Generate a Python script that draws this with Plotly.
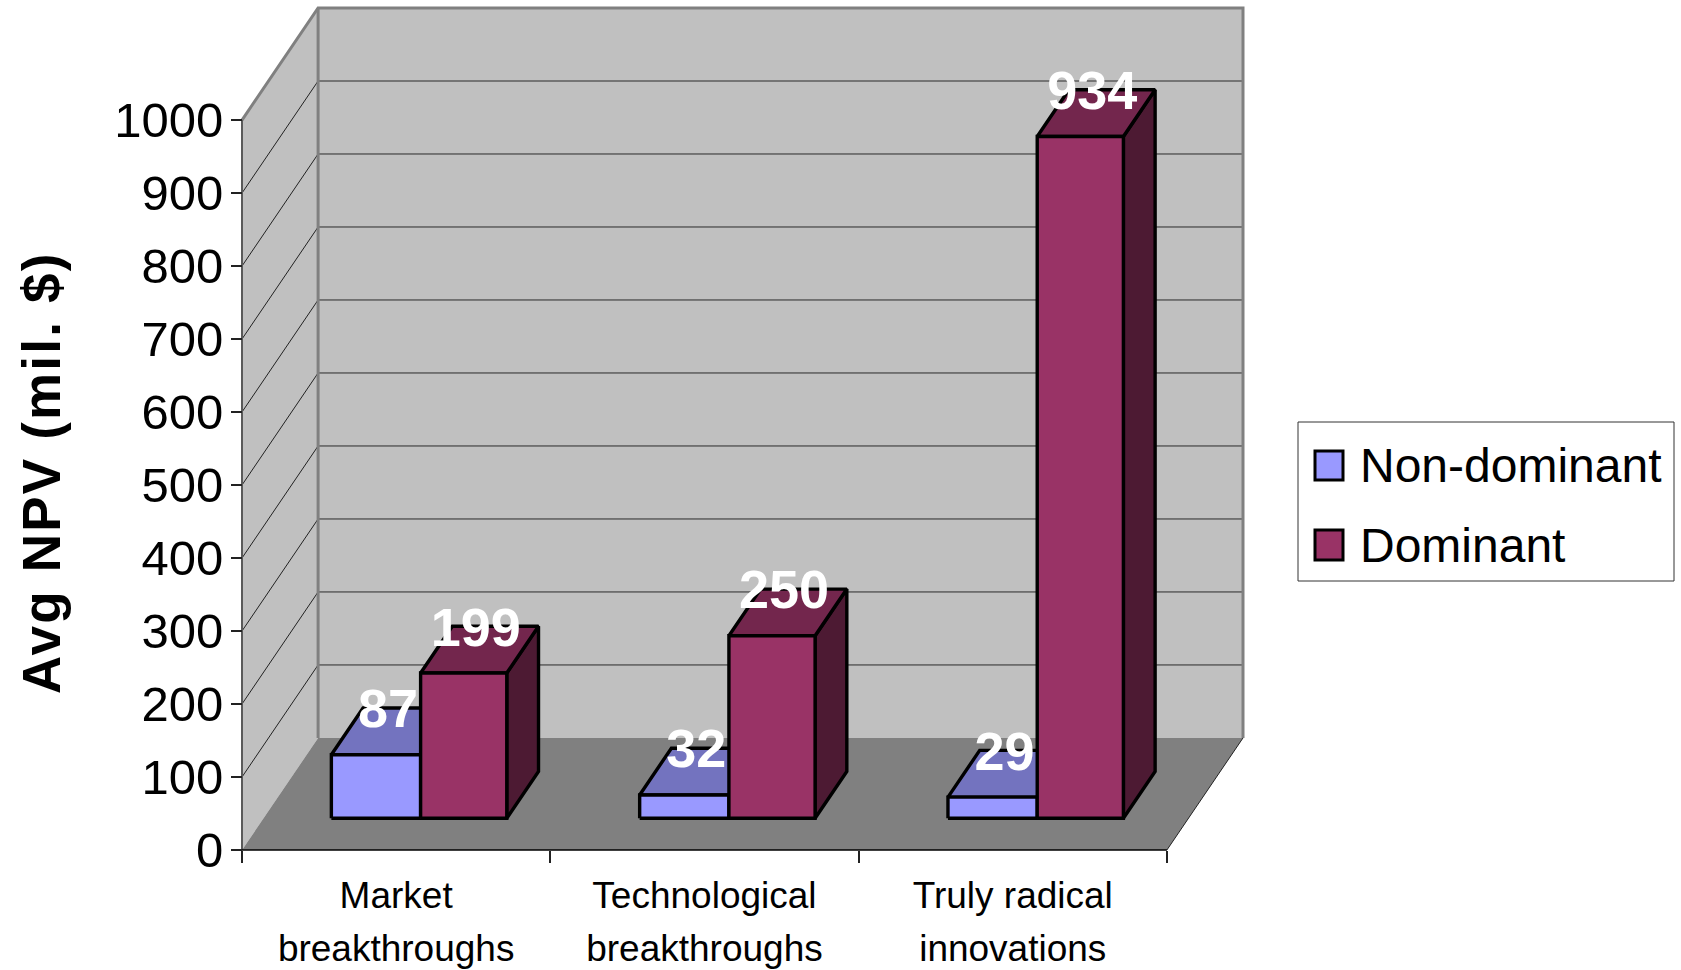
import plotly.graph_objects as go

categories = ["Market<br>breakthroughs", "Technological<br>breakthroughs", "Truly radical<br>innovations"]
non_dominant = [87, 32, 29]
dominant = [199, 250, 934]
y_ticks = [0, 100, 200, 300, 400, 500, 600, 700, 800, 900, 1000]
series_names = ["Non-dominant", "Dominant"]

FONT = "Liberation Sans"
W, H = 1681, 970
L, R, T, B = 242, 1243, 8, 850
PAD = 6
DX, DY = 0.2468, 153.5       # oblique depth of the floor in axis units
D0, D1 = 0.283, 0.70         # bar depth extent
BAR_START = 0.220
BAR_W = (0.2895, 0.2795)
LABEL_D = 0.125
LABEL_X = 0.008
XMAX, YMAX = 3 + DX, 1000 + DY
UX = (R - L) / XMAX
UY = (B - T) / YMAX

BLUE = ("#9999FF", "#7373BF", "#4D4D80")
PLUM = ("#993366", "#73264D", "#4D1A33")


def proj(x, v, d):
    return x + DX * d, v + DY * d


def poly(points, fill=None, line=None, width=1, name=None, closed=True):
    xs = [p[0] for p in points]
    ys = [p[1] for p in points]
    if closed:
        xs.append(xs[0])
        ys.append(ys[0])
    return go.Scatter(
        x=xs, y=ys, mode="lines", showlegend=False, hoverinfo="skip", name=name,
        fill="toself" if fill else None, fillcolor=fill,
        line=dict(color=line if line else "rgba(0,0,0,0)", width=width if line else 0),
        cliponaxis=False,
    )


fig = go.Figure()

# walls and floor
fig.add_trace(poly([(0, 0), (0, 1000), proj(0, 1000, 1), proj(0, 0, 1)], fill="#C0C0C0"))
fig.add_trace(poly([proj(0, 0, 1), proj(0, 1000, 1), proj(3, 1000, 1), proj(3, 0, 1)], fill="#C0C0C0"))
fig.add_trace(poly([(0, 0), (3, 0), proj(3, 0, 1), proj(0, 0, 1)], fill="#808080"))

# gridlines
for v in y_ticks[1:-1]:
    fig.add_trace(poly([(0, v), proj(0, v, 1)], line="#222222", width=1, closed=False))
    fig.add_trace(poly([proj(0, v, 1), proj(3, v, 1)], line="#2A2A2A", width=1, closed=False))

# wall borders
fig.add_trace(poly([(0, 1000), proj(0, 1000, 1), proj(3, 1000, 1), proj(3, 0, 1)], line="#808080", width=3, closed=False))
fig.add_trace(poly([proj(0, 1000, 1), proj(0, 0, 1)], line="#808080", width=3, closed=False))
fig.add_trace(poly([(0, 0), (0, 1000)], line="#5A5A5A", width=2, closed=False))
fig.add_trace(poly([(3, 0), proj(3, 0, 1)], line="#222222", width=1, closed=False))
fig.add_trace(poly([(0, 0), (3, 0)], line="#000000", width=1.5, closed=False))

# bars
label_x, label_y, label_t = [], [], []
for i in range(3):
    x_left = i + BAR_START
    for s, (vals, cols) in enumerate(((non_dominant, BLUE), (dominant, PLUM))):
        v = vals[i]
        x0 = x_left
        x1 = x0 + BAR_W[s]
        x_left = x1
        fig.add_trace(poly([proj(x1, 0, D0), proj(x1, 0, D1), proj(x1, v, D1), proj(x1, v, D0)],
                           fill=cols[2], line="#000000", width=3.4, name=series_names[s]))
        fig.add_trace(poly([proj(x0, v, D0), proj(x1, v, D0), proj(x1, v, D1), proj(x0, v, D1)],
                           fill=cols[1], line="#000000", width=3.4, name=series_names[s]))
        fig.add_trace(poly([proj(x0, 0, D0), proj(x1, 0, D0), proj(x1, v, D0), proj(x0, v, D0)],
                           fill=cols[0], line="#000000", width=3.4, name=series_names[s]))
        lx, ly = proj((x0 + x1) / 2 + LABEL_X, v, D0 + LABEL_D)
        label_x.append(lx)
        label_y.append(ly)
        label_t.append(str(v))

fig.add_trace(go.Scatter(x=label_x, y=label_y, text=label_t, mode="text", textposition="top center",
                         textfont=dict(family=FONT, size=54, color="white", weight="bold"),
                         showlegend=False, hoverinfo="skip", cliponaxis=False))

# legend entries (swatches are larger than plotly's cap, so they sit behind the legend)
for s, name in enumerate(series_names):
    fig.add_trace(go.Scatter(x=[None], y=[None], mode="markers", name=name, legendgroup=name,
                             marker=dict(color="rgba(0,0,0,0)", size=16, line=dict(width=0))))


def px(xp):
    return (xp - (L - PAD)) / (R - L + 2 * PAD)


def py(yp):
    return (B + PAD - yp) / (B - T + 2 * PAD)


legend_shapes = [
    dict(type="rect", xref="paper", yref="paper", x0=px(1298), x1=px(1674), y0=py(422), y1=py(581),
         fillcolor="white", line=dict(color="#333333", width=1), layer="above"),
    dict(type="rect", xref="paper", yref="paper", x0=px(1315), x1=px(1343), y0=py(451), y1=py(480),
         fillcolor=BLUE[0], line=dict(color="#000000", width=3), layer="above"),
    dict(type="rect", xref="paper", yref="paper", x0=px(1315), x1=px(1343), y0=py(530), y1=py(560),
         fillcolor=PLUM[0], line=dict(color="#000000", width=3), layer="above"),
]

fig.update_layout(
    width=W, height=H, autosize=False,
    margin=dict(l=L - PAD, r=W - R - PAD, t=T - PAD, b=H - B - PAD, pad=0),
    paper_bgcolor="white", plot_bgcolor="white",
    font=dict(family=FONT, color="black"),
    shapes=legend_shapes,
    legend=dict(
        x=px(1298), y=py(426), xanchor="left", yanchor="top",
        bgcolor="rgba(0,0,0,0)", borderwidth=0,
        font=dict(family=FONT, size=48, color="black"),
        itemwidth=52, tracegroupgap=14, itemclick=False, itemdoubleclick=False,
    ),
    xaxis=dict(
        range=[-PAD / UX, XMAX + PAD / UX], anchor="free", position=py(B),
        showgrid=False, zeroline=False, showline=False, fixedrange=True,
        tickmode="array", tickvals=[0.5, 1.5, 2.5],
        ticktext=['<span style="font-size:37px">' + c.replace("<br>", '</span><br><span style="font-size:37px">') + "</span>"
                  for c in categories],
        ticks="", tickangle=0, tickfont=dict(family=FONT, size=41.5, color="black"),
        ticklabelstandoff=15,
        minor=dict(tickmode="array", tickvals=[0, 1, 2, 3], ticks="outside", ticklen=12, tickwidth=1.5,
                   tickcolor="#222222", showgrid=False),
    ),
    yaxis=dict(
        range=[-PAD / UY, YMAX + PAD / UY], anchor="free", position=px(L),
        showgrid=False, zeroline=False, showline=False, fixedrange=True,
        tickmode="array", tickvals=y_ticks, ticktext=[str(v) for v in y_ticks],
        ticks="outside", ticklen=11, tickwidth=1.5, tickcolor="#222222",
        tickfont=dict(family=FONT, size=49, color="black"), ticklabelstandoff=-2,
    ),
    annotations=[dict(text='<span style="letter-spacing:2.2px">Avg NPV (mil. $)</span>', xref="paper", yref="paper",
                      x=px(41), y=py(473),
                      xanchor="center", yanchor="middle", textangle=-90, showarrow=False,
                      font=dict(family=FONT, size=53, color="black", weight="bold"))],
)

fig.write_html("out.html", config={"displayModeBar": False, "responsive": False},
               post_script="document.body.style.margin='0';document.documentElement.style.overflow='hidden';")
